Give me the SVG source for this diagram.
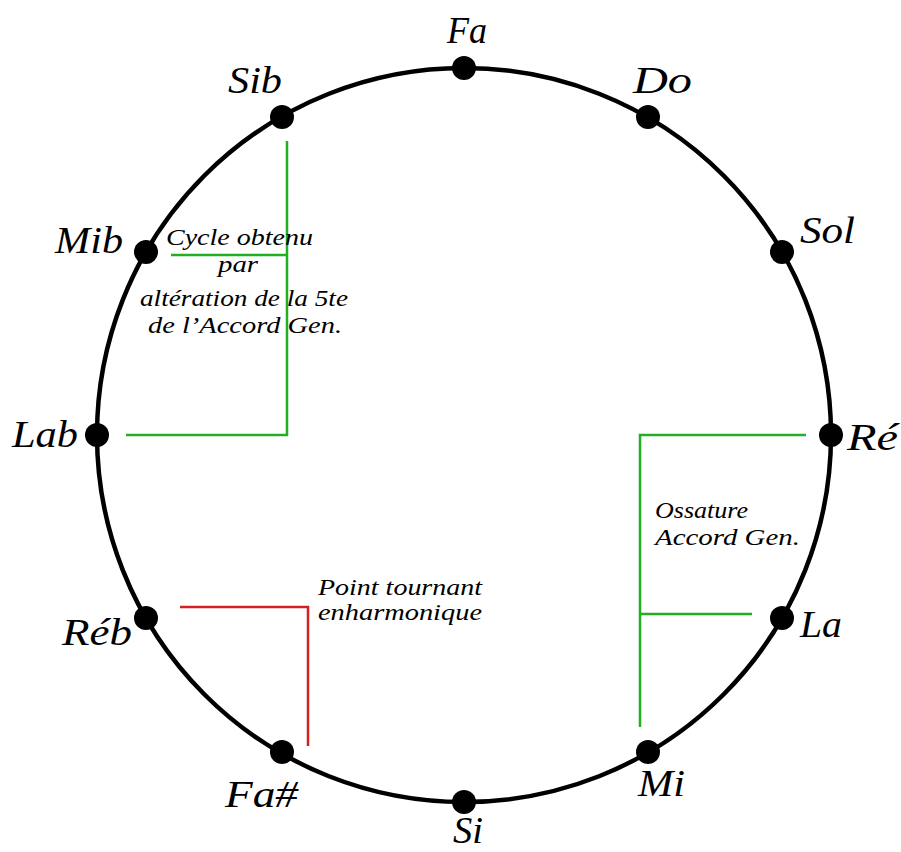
<svg xmlns="http://www.w3.org/2000/svg" width="901" height="852" viewBox="0 0 901 852">
<style>
.lbl{font-family:"Liberation Serif",serif;font-style:italic;font-size:38px;fill:#000}
.note{font-family:"Liberation Serif",serif;font-style:italic;font-size:24px;fill:#000}
.dot{fill:#000}
.g{stroke:#22b022;stroke-width:2.5;fill:none}
.r{stroke:#d42020;stroke-width:2.5;fill:none}
</style>
<rect width="901" height="852" fill="#fff"/>
<circle cx="464" cy="435" r="367" fill="none" stroke="#000" stroke-width="4.5"/>
<g id="connectors">
<polyline class="g" points="287,141 287,435 126,435"/>
<line class="g" x1="171" y1="255" x2="287" y2="255"/>
<polyline class="g" points="806,435 640,435 640,727"/>
<line class="g" x1="640" y1="614" x2="752" y2="614"/>
<polyline class="r" points="180,607 308,607 308,746"/>
</g>
<g id="n-fa"><circle class="dot" cx="464" cy="68" r="12"/><text class="lbl" x="447" y="43" textLength="40" lengthAdjust="spacingAndGlyphs">Fa</text></g>
<g id="n-do"><circle class="dot" cx="648" cy="117" r="12"/><text class="lbl" x="633" y="93" textLength="59" lengthAdjust="spacingAndGlyphs">Do</text></g>
<g id="n-sol"><circle class="dot" cx="782" cy="252" r="12"/><text class="lbl" x="800" y="243" textLength="55" lengthAdjust="spacingAndGlyphs">Sol</text></g>
<g id="n-re"><circle class="dot" cx="831" cy="435" r="12"/><text class="lbl" x="847" y="450" textLength="51" lengthAdjust="spacingAndGlyphs">Ré</text></g>
<g id="n-la"><circle class="dot" cx="782" cy="618" r="12"/><text class="lbl" x="800" y="637" textLength="42" lengthAdjust="spacingAndGlyphs">La</text></g>
<g id="n-mi"><circle class="dot" cx="648" cy="752" r="12"/><text class="lbl" x="638" y="796" textLength="47" lengthAdjust="spacingAndGlyphs">Mi</text></g>
<g id="n-si"><circle class="dot" cx="464" cy="802" r="12"/><text class="lbl" x="453" y="843" textLength="30" lengthAdjust="spacingAndGlyphs">Si</text></g>
<g id="n-fasharp"><circle class="dot" cx="282" cy="752" r="12"/><text class="lbl" x="225" y="807" textLength="73" lengthAdjust="spacingAndGlyphs">Fa#</text></g>
<g id="n-reb"><circle class="dot" cx="146" cy="618" r="12"/><text class="lbl" x="62" y="645" textLength="70" lengthAdjust="spacingAndGlyphs">Réb</text></g>
<g id="n-lab"><circle class="dot" cx="97" cy="435" r="12"/><text class="lbl" x="12" y="447" textLength="66" lengthAdjust="spacingAndGlyphs">Lab</text></g>
<g id="n-mib"><circle class="dot" cx="146" cy="252" r="12"/><text class="lbl" x="55" y="253" textLength="68" lengthAdjust="spacingAndGlyphs">Mib</text></g>
<g id="n-sib"><circle class="dot" cx="282" cy="117" r="12"/><text class="lbl" x="228" y="93" textLength="54" lengthAdjust="spacingAndGlyphs">Sib</text></g>
<g id="note-cycle">
<text class="note" x="166" y="245" textLength="147" lengthAdjust="spacingAndGlyphs">Cycle obtenu</text>
<text class="note" x="218" y="272" textLength="40" lengthAdjust="spacingAndGlyphs">par</text>
<text class="note" x="140" y="306" textLength="208" lengthAdjust="spacingAndGlyphs">altération de la 5te</text>
<text class="note" x="148" y="333" textLength="194" lengthAdjust="spacingAndGlyphs">de l’Accord Gen.</text>
</g>
<g id="note-point">
<text class="note" x="318" y="595" textLength="164" lengthAdjust="spacingAndGlyphs">Point tournant</text>
<text class="note" x="318" y="620" textLength="164" lengthAdjust="spacingAndGlyphs">enharmonique</text>
</g>
<g id="note-ossature">
<text class="note" x="655" y="518" textLength="93" lengthAdjust="spacingAndGlyphs">Ossature</text>
<text class="note" x="655" y="545" textLength="145" lengthAdjust="spacingAndGlyphs">Accord Gen.</text>
</g>
</svg>
